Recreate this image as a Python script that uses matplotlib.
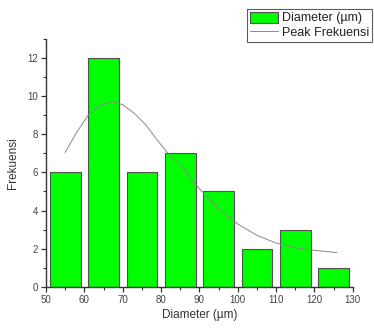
import matplotlib
matplotlib.use("Agg")
from matplotlib import pyplot as plt
from matplotlib.ticker import MultipleLocator
import numpy as np

plt.rcParams['font.family'] = ['Liberation Sans', 'DejaVu Sans']

# histogram bins (centres) and counts
diameter = [55, 65, 75, 85, 95, 105, 115, 125]
frekuensi = [6, 12, 6, 7, 5, 2, 3, 1]

# peak curve
peak_x = [55, 58, 61, 64, 67, 70, 73, 76, 79, 82, 85, 90, 95, 100, 105, 110, 115, 120, 125.8]
peak_y = [7.05, 8.1, 9.0, 9.5, 9.72, 9.55, 9.1, 8.5, 7.7, 6.95, 6.4, 5.15, 4.1, 3.3, 2.7, 2.3, 2.05, 1.92, 1.8]

fig = plt.figure(figsize=(3.74, 3.29), dpi=100)
ax = fig.add_axes([0.123, 0.128, 0.82, 0.754])

bars = ax.bar(diameter, frekuensi, width=8, color='#00ff00', edgecolor='#505050',
              linewidth=0.8, label='Diameter (µm)', zorder=2)
line, = ax.plot(peak_x, peak_y, color='#8a8a8a', linewidth=0.7, label='Peak Frekuensi', zorder=3)

ax.set_xlim(50, 130)
ax.set_ylim(0, 13)
ax.xaxis.set_major_locator(MultipleLocator(10))
ax.xaxis.set_minor_locator(MultipleLocator(5))
ax.yaxis.set_major_locator(MultipleLocator(2))
ax.yaxis.set_minor_locator(MultipleLocator(1))
ax.spines['top'].set_visible(False)
ax.spines['right'].set_visible(False)
for s in ['left', 'bottom']:
    ax.spines[s].set_color('#333333')
    ax.spines[s].set_linewidth(1.0)
ax.tick_params(which='major', direction='out', length=3.5, width=0.9, labelsize=7,
               labelcolor='#444444', color='#333333', pad=2)
ax.tick_params(which='minor', direction='out', length=2, width=0.8, color='#333333')

ax.set_xlabel('Diameter (µm)', fontsize=8.5, color='#333333', labelpad=3)
ax.set_ylabel('Frekuensi', fontsize=8.5, color='#333333', labelpad=6)

leg = fig.legend(handles=[bars, line], loc='upper left', bbox_to_anchor=(247 / 374, 1 - 9 / 329),
                 fontsize=9, frameon=True, fancybox=False, edgecolor='#333333',
                 borderaxespad=0, handlelength=2.3, handleheight=1.0, borderpad=0.2,
                 labelspacing=0.15, handletextpad=0.3)
leg.get_frame().set_linewidth(0.8)
for t in leg.get_texts():
    t.set_color('#222222')

fig.savefig('out.png', dpi=100)
